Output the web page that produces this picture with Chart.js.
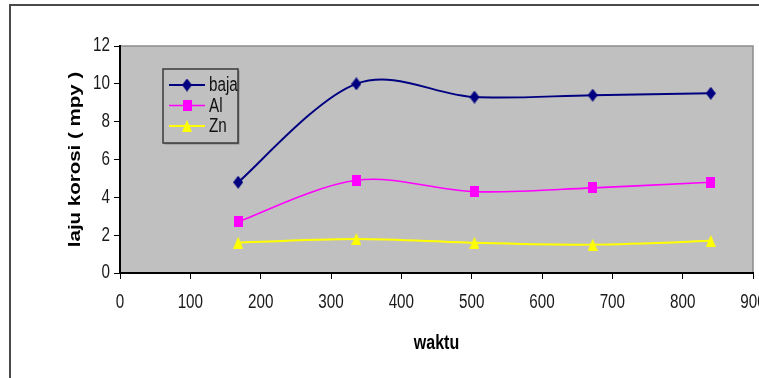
<!DOCTYPE html>
<html>
<head>
<meta charset="utf-8">
<script src="https://cdn.jsdelivr.net/npm/chart.js@4.4.1/dist/chart.umd.min.js"></script>
<style>
  html, body { margin: 0; padding: 0; background: #ffffff; }
  #wrap { position: relative; width: 759px; height: 378px; overflow: hidden; }
</style>
</head>
<body>
<div id="wrap"><canvas id="c" width="759" height="378"></canvas></div>
<script>
// Measurement times and corrosion rates (mpy) per material
const waktu = [168, 336, 504, 672, 840];
const baja  = [4.8, 10.0, 9.3, 9.4, 9.5];
const al    = [2.7, 4.9, 4.3, 4.5, 4.8];
const zn    = [1.6, 1.8, 1.6, 1.5, 1.7];

const seriesNames = ['baja', 'Al', 'Zn'];
const xRange = { min: 0, max: 900, step: 100 };
const yRange = { min: 0, max: 12, step: 2 };

const xTitle = 'waktu';
const yTitle = 'laju korosi ( mpy )';

const FAMILY = "'Liberation Sans', Arial, sans-serif";
const tickFont = { family: FAMILY, size: 19.5 };
const titleFont = { family: FAMILY, size: 20.5, weight: 'bold' };
// horizontal compression applied to all text (narrow lettering)
const SQUEEZE = 0.78;

const toPoints = ys => waktu.map((x, i) => ({ x: x, y: ys[i] }));

// Marker sprites: slightly taller than wide
function marker(shape, color, w, h) {
  const c = document.createElement('canvas');
  c.width = w; c.height = h;
  const g = c.getContext('2d');
  g.fillStyle = color;
  g.beginPath();
  if (shape === 'diamond') {
    g.moveTo(w / 2, 0); g.lineTo(w, h / 2); g.lineTo(w / 2, h); g.lineTo(0, h / 2);
  } else if (shape === 'triangle') {
    g.moveTo(w / 2, 0); g.lineTo(w, h); g.lineTo(0, h);
  } else {
    g.rect(0, 0, w, h);
  }
  g.closePath();
  g.fill();
  return c;
}

// Narrow text: compress every string horizontally around its anchor
const narrowText = {
  id: 'narrowText',
  beforeDraw(chart) {
    const ctx = chart.ctx;
    if (ctx.__plainFill) return;
    const plain = CanvasRenderingContext2D.prototype.fillText;
    ctx.__plainFill = true;
    ctx.fillText = function (text, x, y, maxWidth) {
      const m = this.getTransform();
      const p = m.transformPoint(new DOMPoint(x, y));
      this.save();
      this.setTransform(new DOMMatrix().translate(p.x, p.y).scale(SQUEEZE, 1).translate(-p.x, -p.y).multiply(m));
      if (maxWidth === undefined || maxWidth === null) plain.call(this, text, x, y);
      else plain.call(this, text, x, y, maxWidth / SQUEEZE);
      this.restore();
    };
  }
};

// Smoothed curves with control points at 1/6 of the neighbour span
const smoothCurves = {
  id: 'smoothCurves',
  beforeDatasetsDraw(chart) {
    chart.data.datasets.forEach((ds, i) => {
      const meta = chart.getDatasetMeta(i);
      const line = meta.dataset;
      const pts = meta.data;
      line.updateControlPoints(chart.chartArea, 'x');
      for (let k = 0; k < pts.length; k++) {
        const cur = pts[k];
        const prev = pts[k - 1] || cur;
        const next = pts[k + 1] || cur;
        const dx = (next.x - prev.x) / 6;
        const dy = (next.y - prev.y) / 6;
        cur.cp1x = cur.x - dx; cur.cp1y = cur.y - dy;
        cur.cp2x = cur.x + dx; cur.cp2y = cur.y + dy;
      }
      delete line._path;
    });
  }
};

// Gray plotting area plus the outer frame lines
const backdrop = {
  id: 'backdrop',
  beforeDraw(chart) {
    const { ctx, chartArea: a } = chart;
    ctx.save();
    ctx.strokeStyle = '#4a4a4a';
    ctx.lineWidth = 2;
    ctx.beginPath();
    ctx.moveTo(10, 378);
    ctx.lineTo(10, 5);
    ctx.lineTo(759, 5);
    ctx.stroke();
    ctx.fillStyle = '#c0c0c0';
    ctx.fillRect(a.left, a.top, a.right - a.left, a.bottom - a.top);
    ctx.strokeStyle = '#8c8c8c';
    ctx.lineWidth = 1.5;
    ctx.beginPath();
    ctx.moveTo(a.left, a.top);
    ctx.lineTo(a.right, a.top);
    ctx.lineTo(a.right, a.bottom);
    ctx.stroke();
    ctx.restore();
  }
};

// Boxed legend placed inside the plotting area
const boxLegend = {
  id: 'boxLegend',
  afterDatasetsDraw(chart) {
    const { ctx } = chart;
    const bx = 163, by = 69, bw = 75, bh = 74;
    ctx.save();
    ctx.fillStyle = '#8a8a8a';
    ctx.fillRect(bx + 1.5, by + 1.5, bw, bh);
    ctx.fillStyle = '#c0c0c0';
    ctx.fillRect(bx, by, bw, bh);
    ctx.strokeStyle = '#3a3a3a';
    ctx.lineWidth = 1.5;
    ctx.strokeRect(bx, by, bw, bh);
    chart.data.datasets.forEach((ds, i) => {
      const y = 85 + i * 20.5;
      ctx.strokeStyle = ds.borderColor;
      ctx.lineWidth = ds.borderWidth;
      ctx.beginPath();
      ctx.moveTo(169, y);
      ctx.lineTo(205, y);
      ctx.stroke();
      Chart.helpers.drawPoint(ctx, { pointStyle: ds.pointStyle, radius: 6, borderWidth: 0, rotation: 0 }, 187, y);
      ctx.fillStyle = '#111111';
      ctx.font = tickFont.size + 'px ' + tickFont.family;
      ctx.textAlign = 'left';
      ctx.textBaseline = 'middle';
      ctx.fillText(ds.label, 209, y + 1);
    });
    ctx.restore();
  }
};

new Chart(document.getElementById('c'), {
  type: 'line',
  data: {
    datasets: [
      {
        label: seriesNames[0], data: toPoints(baja),
        borderColor: '#000080', borderWidth: 2,
        pointStyle: marker('diamond', '#000080', 10, 13)
      },
      {
        label: seriesNames[1], data: toPoints(al),
        borderColor: '#ff00ff', borderWidth: 1.6,
        pointStyle: marker('square', '#ff00ff', 9, 11)
      },
      {
        label: seriesNames[2], data: toPoints(zn),
        borderColor: '#ffff00', borderWidth: 2,
        pointStyle: marker('triangle', '#ffff00', 10, 12)
      }
    ]
  },
  options: {
    responsive: false,
    animation: false,
    devicePixelRatio: 1,
    clip: false,
    layout: { padding: { top: 46, right: 4, bottom: 0, left: 0 } },
    plugins: { legend: { display: false }, tooltip: { enabled: false } },
    elements: { line: { tension: 0.4, fill: false, capBezierPoints: false } },
    scales: {
      x: {
        type: 'linear',
        min: xRange.min, max: xRange.max,
        ticks: { stepSize: xRange.step, color: '#1a1a1a', font: tickFont, padding: 12, maxRotation: 0, autoSkip: false },
        grid: { drawOnChartArea: false, drawTicks: true, tickLength: 6, color: '#000000' },
        border: { color: '#000000', width: 2 },
        title: { display: true, text: xTitle, color: '#000000', font: titleFont, padding: { top: 0, bottom: 22 } },
        afterFit(s) { s.height = 105; s.paddingLeft = 0; s.paddingRight = 0; }
      },
      y: {
        min: yRange.min, max: yRange.max,
        ticks: { stepSize: yRange.step, color: '#1a1a1a', font: tickFont, padding: 4 },
        grid: { drawOnChartArea: false, drawTicks: true, tickLength: 6, color: '#000000' },
        border: { color: '#000000', width: 2 },
        title: { display: true, text: yTitle, color: '#000000', font: titleFont, padding: { top: 63, bottom: 0 } },
        afterFit(s) { s.width = 120; s.paddingTop = 0; s.paddingBottom = 0; }
      }
    }
  },
  plugins: [narrowText, backdrop, smoothCurves, boxLegend]
});
</script>
</body>
</html>
